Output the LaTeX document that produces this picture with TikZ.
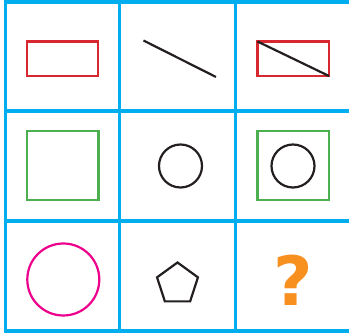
\documentclass[tikz,border=0pt]{standalone}
\usepackage{fontspec}
\newfontfamily\qfont{DejaVu Sans}
\definecolor{gridblue}{HTML}{00AEEF}
\definecolor{shred}{HTML}{D7282F}
\definecolor{shgreen}{HTML}{4CB050}
\definecolor{shmag}{HTML}{EC008C}
\definecolor{shblack}{HTML}{231F20}
\definecolor{qorange}{HTML}{F7901E}
\begin{document}
\begin{tikzpicture}[x=1pt,y=-1pt,
  gridline/.style={draw=gridblue,line width=3.6pt},
  redshape/.style={draw=shred,line width=2.2pt},
  greenshape/.style={draw=shgreen,line width=2.2pt},
  blackshape/.style={draw=shblack,line width=2.2pt},
  magshape/.style={draw=shmag,line width=2.2pt}]
\useasboundingbox (0,0) rectangle (349,336);
% grid
\draw[gridline] (5.5,1.8) -- (5.5,330.8);
\draw[gridline] (119.5,1.8) -- (119.5,330.8);
\draw[gridline] (235.5,1.8) -- (235.5,330.8);
\draw[gridline] (351,1.8) -- (351,330.8);
\draw[gridline] (3.7,1.8) -- (352,1.8);
\draw[gridline] (3.7,111) -- (352,111);
\draw[gridline] (3.7,221) -- (352,221);
\draw[gridline] (3.7,330.8) -- (352,330.8);
% row 1
\draw[redshape] (27,41.5) rectangle (98,76);
\coordinate (l1) at (143.5,40.5);
\coordinate (l2) at (216,77);
\draw[blackshape] (l1) -- (l2);
\draw[redshape] (257.5,41.5) rectangle (329,76);
\coordinate (d1) at (257.5,41.5);
\coordinate (d2) at (329,76);
\draw[blackshape] (d1) -- (d2);
% row 2
\draw[greenshape] (27,131) rectangle (98.5,200);
\draw[blackshape] (180.5,166) circle (21.5);
\draw[greenshape] (257.5,131) rectangle (329,200);
\draw[blackshape] (293,166) circle (21.5);
% row 3
\draw[magshape] (63.3,279.5) circle (36);
\draw[blackshape,line join=miter] (177.5,284)
  +(270:21.5) -- +(198:21.5) -- +(126:21.5) -- +(54:21.5) -- +(342:21.5) -- cycle;
\node[text=qorange,font=\qfont\bfseries\fontsize{68}{68}\selectfont,inner sep=0pt]
  (q) at (293.5,280) {?};
\end{tikzpicture}
\end{document}
